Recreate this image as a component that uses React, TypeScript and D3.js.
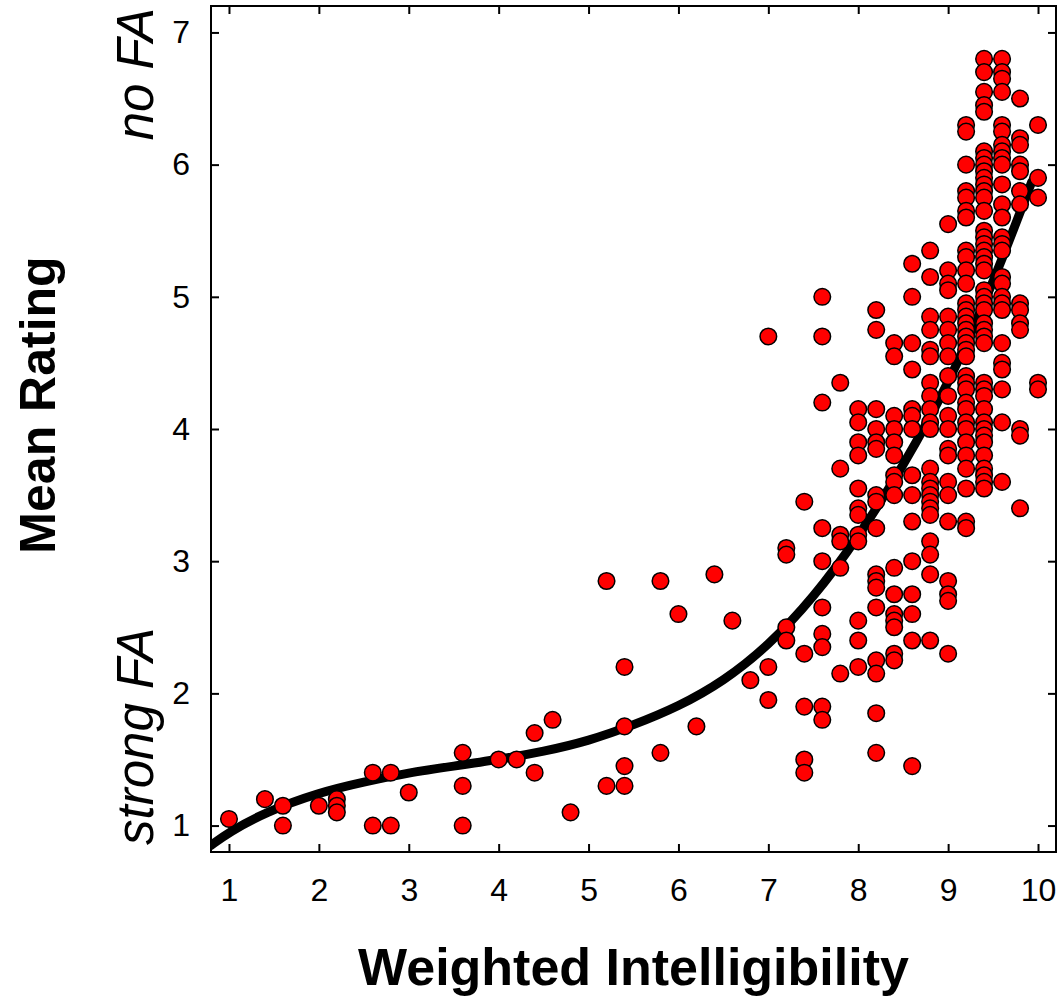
import React, { useRef, useEffect } from 'react';
import * as d3 from 'd3';

// constants
const width = 1062;
const height = 998;
const margin = { top: 6, right: 6, bottom: 146, left: 211 };
const fontFamily = '"Liberation Sans", Arial, Helvetica, sans-serif';

// data: each column is one intelligibility level with the mean ratings found there
const levels = [1.0, 1.4, 1.6, 2.0, 2.2, 2.6, 2.8, 3.0, 3.6, 4.0, 4.2, 4.4, 4.6, 4.8, 5.2, 5.4, 5.8, 6.0, 6.2, 6.4, 6.6, 6.8, 7.0, 7.2, 7.4, 7.6, 7.8, 8.0, 8.2, 8.4, 8.6, 8.8, 9.0, 9.2, 9.4, 9.6, 9.8, 10.0];
const ratings = [
  [1.05],
  [1.2],
  [1.15, 1.0],
  [1.15],
  [1.2, 1.15, 1.1],
  [1.4, 1.0],
  [1.4, 1.0],
  [1.25],
  [1.55, 1.3, 1.0],
  [1.5],
  [1.5],
  [1.7, 1.4],
  [1.8],
  [1.1],
  [2.85, 1.3],
  [2.2, 1.75, 1.45, 1.3],
  [2.85, 1.55],
  [2.6],
  [1.75],
  [2.9],
  [2.55],
  [2.1],
  [4.7, 2.2, 1.95],
  [3.1, 3.05, 2.5, 2.4],
  [3.45, 2.3, 1.9, 1.5, 1.4],
  [5.0, 4.7, 4.2, 3.25, 3.0, 2.65, 2.45, 2.35, 1.9, 1.8],
  [4.35, 3.7, 3.2, 3.15, 2.95, 2.15],
  [4.15, 4.05, 3.9, 3.8, 3.55, 3.4, 3.35, 3.2, 3.15, 2.55, 2.4, 2.2],
  [4.9, 4.75, 4.15, 4.0, 3.9, 3.85, 3.5, 3.45, 3.25, 2.9, 2.85, 2.8, 2.65, 2.25, 2.15, 1.85, 1.55],
  [4.65, 4.55, 4.1, 4.0, 3.9, 3.8, 3.65, 3.6, 3.5, 2.95, 2.75, 2.6, 2.55, 2.5, 2.3, 2.25],
  [5.25, 5.0, 4.65, 4.45, 4.15, 4.1, 4.0, 3.65, 3.5, 3.3, 3.0, 2.75, 2.6, 2.4, 1.45],
  [5.35, 5.15, 4.85, 4.75, 4.6, 4.55, 4.35, 4.25, 4.15, 4.05, 4.0, 3.7, 3.6, 3.55, 3.5, 3.45, 3.4, 3.35, 3.15, 3.05, 2.9, 2.4],
  [5.55, 5.2, 5.1, 5.05, 4.85, 4.75, 4.65, 4.55, 4.4, 4.25, 4.1, 4.0, 3.85, 3.8, 3.6, 3.5, 3.3, 2.85, 2.75, 2.7, 2.3],
  [6.3, 6.25, 6.0, 5.8, 5.75, 5.65, 5.6, 5.35, 5.3, 5.2, 5.1, 4.95, 4.9, 4.85, 4.8, 4.75, 4.7, 4.65, 4.6, 4.55, 4.4, 4.35, 4.3, 4.2, 4.15, 4.05, 4.0, 3.9, 3.8, 3.7, 3.55, 3.3, 3.25],
  [6.8, 6.7, 6.55, 6.45, 6.4, 6.1, 6.05, 6.0, 5.95, 5.9, 5.85, 5.8, 5.75, 5.65, 5.5, 5.45, 5.4, 5.35, 5.3, 5.25, 5.2, 5.05, 5.0, 4.95, 4.9, 4.8, 4.75, 4.7, 4.65, 4.35, 4.3, 4.25, 4.15, 4.05, 4.0, 3.95, 3.9, 3.8, 3.7, 3.65, 3.6, 3.55],
  [6.8, 6.7, 6.65, 6.55, 6.3, 6.25, 6.15, 6.1, 6.05, 6.0, 5.85, 5.7, 5.6, 5.45, 5.4, 5.35, 5.15, 5.1, 5.0, 4.95, 4.9, 4.65, 4.5, 4.45, 4.3, 4.05, 3.6],
  [6.5, 6.2, 6.15, 6.0, 5.95, 5.8, 5.7, 4.95, 4.9, 4.8, 4.75, 4.0, 3.95, 3.4],
  [6.3, 5.9, 5.75, 4.35, 4.3],
];

// fitted curve
const fitX = [0.8, 1.0, 1.4, 2.0, 2.5, 3.0, 3.5, 4.0, 4.5, 5.0, 5.5, 6.0, 6.5, 7.0, 7.5, 8.0, 8.5, 9.0, 9.5, 9.93];
const fitY = [0.85, 0.95, 1.1, 1.25, 1.33, 1.4, 1.45, 1.5, 1.56, 1.64, 1.76, 1.9, 2.09, 2.36, 2.72, 3.18, 3.72, 4.33, 5.1, 5.87];

const xTicks = [1, 2, 3, 4, 5, 6, 7, 8, 9, 10];
const yTicks = [1, 2, 3, 4, 5, 6, 7];

const xScale = d3.scaleLinear().domain([0.8, 10.2]).range([margin.left, width - margin.right]);
const yScale = d3.scaleLinear().domain([0.8, 7.2]).range([height - margin.bottom, margin.top]);

const App = () => {
  const gRef = useRef<SVGGElement>(null);

  useEffect(() => {
    const g = d3.select(gRef.current);
    g.selectAll('*').remove();

    const points = levels.flatMap((x, i) => ratings[i].map(y => ({ x, y })));
    const fit = fitX.map((x, i) => ({ x, y: fitY[i] }));

    g.append('clipPath').attr('id', 'plot-clip')
      .append('rect')
      .attr('x', margin.left).attr('y', margin.top)
      .attr('width', width - margin.left - margin.right)
      .attr('height', height - margin.top - margin.bottom);

    // fit line under the points
    const line = d3.line<{ x: number; y: number }>()
      .x(d => xScale(d.x))
      .y(d => yScale(d.y))
      .curve(d3.curveBasis);
    g.append('path')
      .datum(fit)
      .attr('clip-path', 'url(#plot-clip)')
      .attr('d', line)
      .attr('fill', 'none')
      .attr('stroke', '#000')
      .attr('stroke-width', 9)
      .attr('stroke-linecap', 'round');

    g.selectAll('.pt')
      .data(points)
      .join('circle')
      .classed('pt', true)
      .attr('cx', d => xScale(d.x))
      .attr('cy', d => yScale(d.y))
      .attr('r', 8.3)
      .attr('fill', '#ff0000')
      .attr('stroke', '#000')
      .attr('stroke-width', 1.5);

    // axes, ticks pointing inward on all four sides
    const styleAxis = (sel: any) => {
      sel.select('.domain').remove();
      sel.selectAll('line').attr('stroke', '#000').attr('stroke-width', 2);
      sel.selectAll('text').attr('font-family', fontFamily).attr('font-size', 32).attr('fill', '#000');
    };
    g.append('g')
      .attr('transform', `translate(0,${height - margin.bottom})`)
      .call(d3.axisBottom(xScale).tickValues(xTicks).tickFormat(d3.format('d')).tickSizeInner(-8).tickSizeOuter(0).tickPadding(26))
      .call(styleAxis);
    g.append('g')
      .attr('transform', `translate(0,${margin.top})`)
      .call(d3.axisTop(xScale).tickValues(xTicks).tickFormat(() => '').tickSizeInner(-8).tickSizeOuter(0))
      .call(styleAxis);
    g.append('g')
      .attr('transform', `translate(${margin.left},0)`)
      .call(d3.axisLeft(yScale).tickValues(yTicks).tickFormat(d3.format('d')).tickSizeInner(-8).tickSizeOuter(0).tickPadding(21))
      .call(styleAxis);
    g.append('g')
      .attr('transform', `translate(${width - margin.right},0)`)
      .call(d3.axisRight(yScale).tickValues(yTicks).tickFormat(() => '').tickSizeInner(-8).tickSizeOuter(0))
      .call(styleAxis);

    g.append('rect')
      .attr('x', margin.left).attr('y', margin.top)
      .attr('width', width - margin.left - margin.right)
      .attr('height', height - margin.top - margin.bottom)
      .attr('fill', 'none')
      .attr('stroke', '#000')
      .attr('stroke-width', 2);
  }, []);

  const midX = (margin.left + width - margin.right) / 2;

  return (
    <svg width={width} height={height} style={{ position: 'absolute', left: 0, top: 0, background: '#fff' }}>
      <g ref={gRef}></g>
      <text x={midX} y={985} textAnchor="middle" fontFamily={fontFamily} fontWeight="bold" fontSize={52}>
        Weighted Intelligibility
      </text>
      <text transform="translate(55,405) rotate(-90)" textAnchor="middle" fontFamily={fontFamily} fontWeight="bold" fontSize={50}>
        Mean Rating
      </text>
      <text transform="translate(153,8) rotate(-90)" textAnchor="end" fontFamily={fontFamily} fontStyle="italic" fontSize={51}>
        no FA
      </text>
      <text transform="translate(153,845) rotate(-90)" textAnchor="start" fontFamily={fontFamily} fontStyle="italic" fontSize={51}>
        strong FA
      </text>
    </svg>
  );
};

export default App;
